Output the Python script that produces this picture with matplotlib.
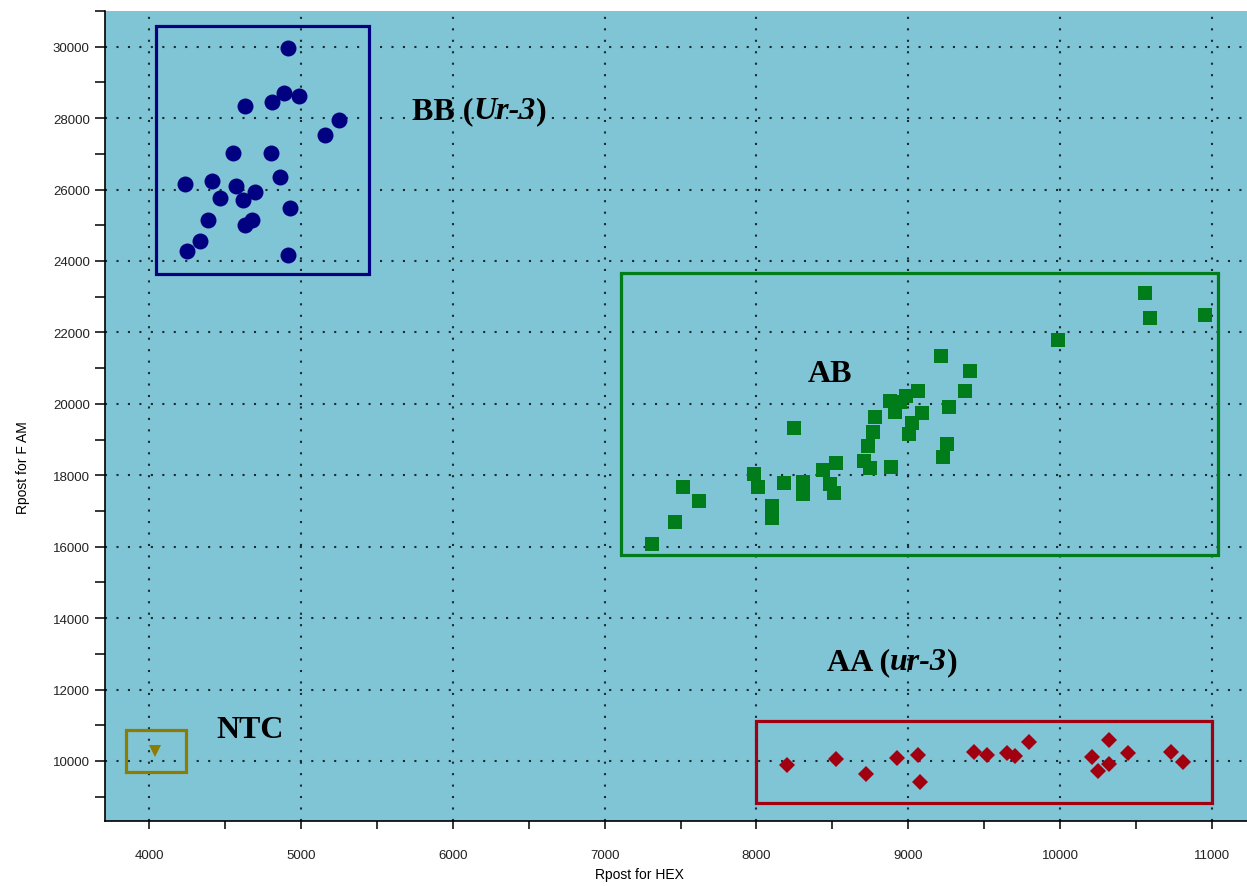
import matplotlib
matplotlib.use('Agg')
import matplotlib.pyplot as plt
from matplotlib.patches import Rectangle
from matplotlib.ticker import MultipleLocator

# BB (Ur-3) cluster
bb_hex = [4917, 4890, 4985, 4810, 4630, 5250, 5160, 4555, 4800, 4860, 4237, 4417,
          4570, 4467, 4620, 4698, 4928, 4390, 4632, 4676, 4336, 4248, 4917]
bb_fam = [29960, 28710, 28620, 28450, 28340, 27960, 27530, 27030, 27030, 26350, 26160, 26230,
          26100, 25770, 25710, 25930, 25490, 25160, 25000, 25135, 24560, 24290, 24170]

# AB cluster
ab_hex = [7315, 7466, 7518, 7620, 7986, 8010, 8103, 8103, 8180, 8244, 8306, 8306,
          8436, 8523, 8485, 8512, 8705, 8745, 8734, 8767, 8780, 8883, 8878, 8911,
          8946, 8984, 9062, 9027, 9003, 9089, 9214, 9268, 9407, 9371, 9252, 9230,
          9984, 10556, 10593, 10954]
ab_fam = [16080, 16680, 17670, 17285, 18050, 17660, 17145, 16815, 17780, 19320, 17820, 17470,
          18155, 18335, 17745, 17500, 18390, 18200, 18830, 19205, 19645, 18220, 20080, 19770,
          20050, 20220, 20360, 19460, 19160, 19750, 21345, 19920, 20910, 20360, 18880, 18500,
          21775, 23100, 22395, 22497]

# AA (ur-3) cluster
aa_hex = [8200, 8525, 8718, 8925, 9065, 9075, 9431, 9518, 9650, 9700, 9792, 10210,
          10250, 10318, 10318, 10448, 10732, 10809]
aa_fam = [9890, 10065, 9630, 10095, 10160, 9415, 10250, 10160, 10220, 10150, 10530, 10120,
          9720, 10575, 9905, 10215, 10250, 9970]

# no template control
ntc_hex = [4040]
ntc_fam = [10280]

# cluster boxes: (x0, y0, x1, y1)
box_bb = (4046, 23633, 5446, 30580)
box_ab = (7111, 15756, 11041, 23678)
box_aa = (8000, 8830, 11000, 11110)
box_ntc = (3850, 9680, 4245, 10870)

bg = '#80c5d5'
navy = '#000080'
green = '#007d1a'
red = '#a00010'
olive = '#8c7c00'

fig = plt.figure(figsize=(12.47, 8.87), dpi=100)
ax = fig.add_axes([105 / 1247, 65 / 887, 1 - 105 / 1247, 810 / 887])
ax.set_facecolor(bg)

ax.set_xlim(3710, 11230)
ax.set_ylim(8320, 31000)

ax.xaxis.set_major_locator(MultipleLocator(1000))
ax.xaxis.set_minor_locator(MultipleLocator(500))
ax.yaxis.set_major_locator(MultipleLocator(2000))
ax.yaxis.set_minor_locator(MultipleLocator(1000))

ax.grid(True, which='major', color='#1a2a30', linestyle=(0, (1, 4.5)), linewidth=1.5)
ax.set_axisbelow(True)

for side in ('top', 'right'):
    ax.spines[side].set_visible(False)
for side in ('left', 'bottom'):
    ax.spines[side].set_linewidth(1.2)

ax.tick_params(which='both', direction='out', colors='black', width=1.1)
ax.tick_params(axis='x', which='both', length=6, pad=14)
ax.tick_params(axis='y', which='both', length=7, pad=4)
for lab in ax.get_xticklabels() + ax.get_yticklabels():
    lab.set_fontfamily('Liberation Sans')
    lab.set_fontsize(9.5)
    lab.set_color('#222222')

ax.set_xlabel('Rpost for HEX', fontsize=10, family='Liberation Sans')
ax.set_ylabel('Rpost for F AM', fontsize=10, family='Liberation Sans')
ax.xaxis.set_label_coords(0.468, -0.057)
ax.yaxis.set_label_coords(-0.066, 0.438)

# boxes
for (x0, y0, x1, y1), col in [(box_bb, navy), (box_ab, green), (box_aa, red), (box_ntc, olive)]:
    ax.add_patch(Rectangle((x0, y0), x1 - x0, y1 - y0, fill=False, edgecolor=col,
                           linewidth=2.3, zorder=3))

# points
ax.plot(bb_hex, bb_fam, 'o', color=navy, markersize=11.5, markeredgewidth=0, zorder=4)
ax.plot(ab_hex, ab_fam, 's', color=green, markersize=10, markeredgewidth=0, zorder=4)
ax.plot(aa_hex, aa_fam, 'D', color=red, markersize=8, markeredgewidth=0, zorder=4)
ax.plot(ntc_hex, ntc_fam, 'v', color=olive, markersize=9, markeredgewidth=0, zorder=4)

# cluster labels
lab_kw = dict(fontsize=23, fontweight='bold', family='Liberation Serif', zorder=5)


def genotype_label(x, y, head, gene):
    # "head (" upright, gene name italic, ")" upright
    t1 = ax.text(x, y, head + ' (', ha='left', va='center', **lab_kw)
    t2 = ax.annotate(gene, xy=(1, 0), xycoords=t1, ha='left', va='bottom',
                     fontstyle='italic', **lab_kw)
    ax.annotate(')', xy=(1, 0), xycoords=t2, ha='left', va='bottom', **lab_kw)


genotype_label(5731, 28207, 'BB', 'Ur-3')
genotype_label(8463, 12773, 'AA', 'ur-3')
ax.text(8483, 20840, 'AB', ha='center', va='center', **lab_kw)
ax.text(4665, 10868, 'NTC', ha='center', va='center', **lab_kw)

fig.savefig('out.png', dpi=100)
